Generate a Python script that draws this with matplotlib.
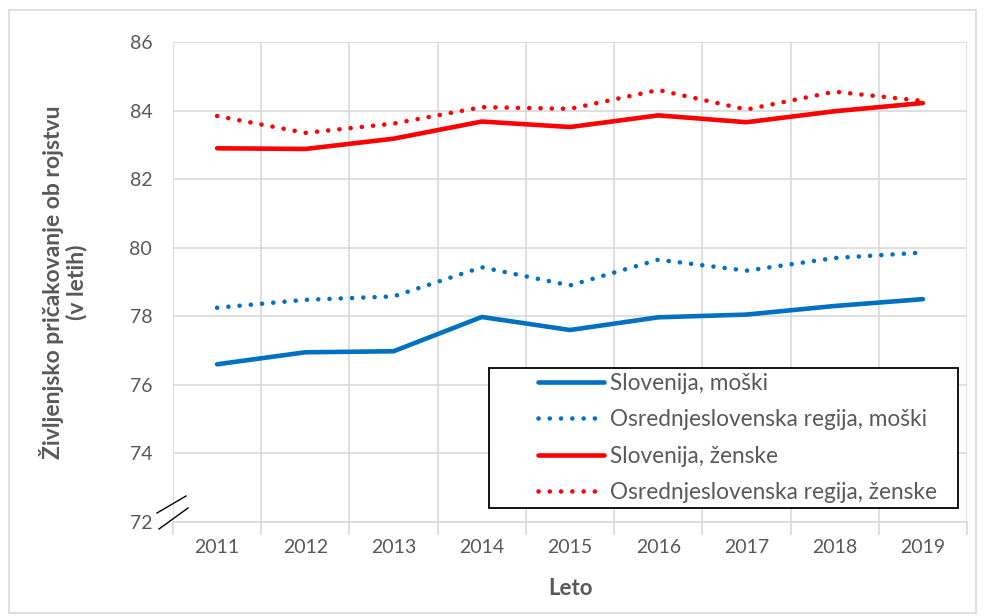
import matplotlib
matplotlib.use("Agg")
import matplotlib.pyplot as plt
from matplotlib.patches import Rectangle
from matplotlib.lines import Line2D
import numpy as np

plt.rcParams['font.family'] = ['Lato', 'DejaVu Sans']

years = ["2011", "2012", "2013", "2014", "2015", "2016", "2017", "2018", "2019"]
slo_m = [76.6, 76.95, 76.98, 77.98, 77.6, 77.97, 78.05, 78.3, 78.5]
osr_m = [78.25, 78.48, 78.58, 79.43, 78.9, 79.65, 79.33, 79.7, 79.86]
slo_z = [82.9, 82.88, 83.18, 83.68, 83.52, 83.86, 83.66, 83.98, 84.22]
osr_z = [83.84, 83.35, 83.62, 84.1, 84.05, 84.6, 84.03, 84.55, 84.28]
labels = ["Slovenija, moški", "Osrednjeslovenska regija, moški",
          "Slovenija, ženske", "Osrednjeslovenska regija, ženske"]

BLUE = "#0070c0"
RED = "#ff0000"
GREY = "#595959"
DOTS = (0, (0.01, 2.45))

fig = plt.figure(figsize=(9.84, 6.16), dpi=100)
ax = fig.add_axes([173 / 984, 1 - 522 / 616, 794 / 984, 480 / 616])

xs = np.arange(len(years))
series = [(slo_m, BLUE, "-"), (osr_m, BLUE, DOTS), (slo_z, RED, "-"), (osr_z, RED, DOTS)]
handles = []
for vals, col, ls in series:
    ln, = ax.plot(xs, vals, color=col, lw=3.3, linestyle=ls, dash_capstyle='round',
                  solid_capstyle='round', solid_joinstyle='round', zorder=3)
    handles.append(ln)

ax.set_xlim(-0.5, len(years) - 0.5)
ax.set_ylim(72, 86)
ax.set_yticks(np.arange(72, 87, 2))
ax.set_xticks(xs)
ax.set_xticklabels(years)
ax.set_xticks(np.arange(-0.5, len(years)), minor=True)
ax.tick_params(axis='x', which='major', length=0, pad=12, labelsize=14, labelcolor=GREY)
ax.tick_params(axis='x', which='minor', length=9, width=1.2, color="#d9d9d9")
ax.tick_params(axis='y', length=0, pad=15, labelsize=14, labelcolor=GREY)
ax.grid(True, axis='y', color="#d9d9d9", lw=1.2)
ax.grid(True, axis='x', which='minor', color="#d9d9d9", lw=1.2)
ax.set_axisbelow(True)
for s in ax.spines.values():
    s.set_visible(False)
ax.spines['bottom'].set_visible(True)
ax.spines['bottom'].set_color("#d9d9d9")
ax.spines['bottom'].set_linewidth(1.2)

ax.set_ylabel("Življenjsko pričakovanje ob rojstvu\n(v letih)", fontsize=16.5,
              fontweight='bold', color=GREY, labelpad=30, linespacing=1.1,
              multialignment='center')
ax.set_xlabel("Leto", fontsize=16, fontweight='bold', color=GREY, labelpad=16)

# axis break marks
fig.add_artist(Line2D([157 / 984, 186 / 984], [1 - 513 / 616, 1 - 496 / 616],
                      color='black', lw=1))
fig.add_artist(Line2D([159 / 984, 188 / 984], [1 - 529 / 616, 1 - 508 / 616],
                      color='black', lw=1))

# legend box drawn separately (Excel leaves a wide left margin)
ax.add_patch(Rectangle((489 / 984, 1 - 508 / 616), 469 / 984, 140 / 616,
                       transform=fig.transFigure, facecolor='white',
                       edgecolor='black', lw=1.3, zorder=4))
leg = ax.legend(handles, labels, loc='upper left',
                bbox_to_anchor=(538 / 984, 1 - 373 / 616), bbox_transform=fig.transFigure,
                fontsize=16.3, frameon=False, borderaxespad=0, borderpad=0,
                handlelength=2.9, handletextpad=0.3, labelspacing=0.68,
                labelcolor=GREY)
leg.set_zorder(5)

fig.add_artist(Rectangle((9 / 984, 1 - 613 / 616), 967 / 984, 603 / 616,
                         transform=fig.transFigure, fill=False,
                         edgecolor="#d9d9d9", lw=1.2))

fig.savefig("out.png", dpi=100)
